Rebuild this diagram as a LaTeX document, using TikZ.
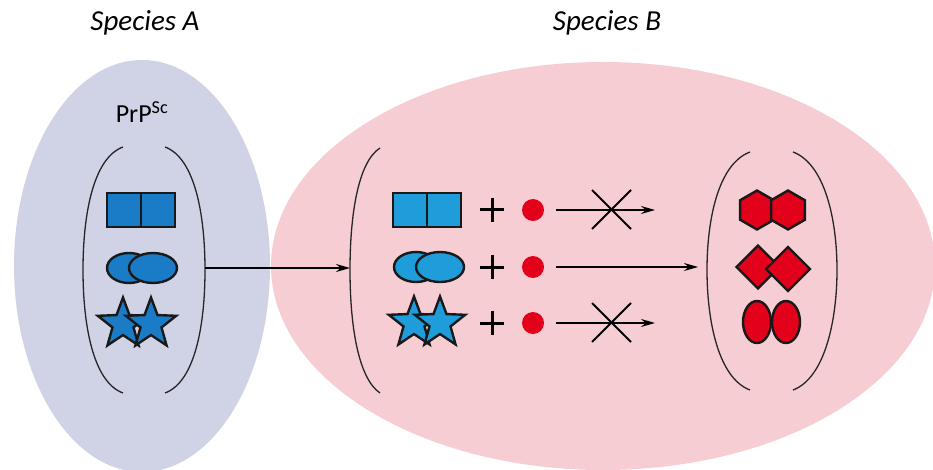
\documentclass[tikz,border=0pt]{standalone}
\usepackage{fontspec}
\setmainfont{Carlito}
\usetikzlibrary{arrows.meta,shapes.geometric}
\definecolor{bgA}{RGB}{208,211,230}
\definecolor{bgB}{RGB}{246,205,211}
\definecolor{blueA}{RGB}{26,124,198}
\definecolor{blueB}{RGB}{30,157,218}
\definecolor{redP}{RGB}{226,0,26}
\tikzset{
  shp/.style={draw=black!90, line width=2.4pt, line join=miter},
  paren/.style={draw=black!85, line width=1.3pt},
  conn/.style={draw=black, line width=1.5pt, -{Stealth[length=14pt,width=8pt]}},
  crossln/.style={draw=black, line width=1.8pt},
  plusln/.style={draw=black, line width=3pt},
  starsh/.style={star, star points=5, star point ratio=2.4, minimum size=53pt, inner sep=0pt, shp},
}
\begin{document}
\begin{tikzpicture}[x=1pt,y=-1pt]
\useasboundingbox (0,0) rectangle (933,470);
\fill[bgA] (142,266) ellipse [x radius=128, y radius=206];
\fill[bgB] (603,266) ellipse [x radius=332, y radius=204];

\node (spA) at (145,23) {\fontsize{29}{33}\selectfont\itshape Species A};
\node (spB) at (607,23) {\fontsize{29}{33}\selectfont\itshape Species B};
\node (prp) at (142,112) {\fontsize{26}{30}\selectfont PrP\textsuperscript{Sc}};

% parentheses A
\draw[paren] (123,147) .. controls (93,158) and (83,215) .. (83,270) .. controls (83,325) and (93,382) .. (123,393);
\draw[paren] (165,147) .. controls (195,158) and (205,215) .. (205,270) .. controls (205,325) and (195,382) .. (165,393);
% parentheses B left
\draw[paren] (380,148) .. controls (358,162) and (350,215) .. (350,270) .. controls (350,325) and (358,378) .. (380,393);
% parentheses B right
\draw[paren] (750,152) .. controls (718,164) and (707,220) .. (707,270) .. controls (707,320) and (718,378) .. (750,390);
\draw[paren] (793,152) .. controls (825,164) and (837,220) .. (837,270) .. controls (837,320) and (825,378) .. (793,390);

% species A shapes
\draw[shp, fill=blueA] (107,193) rectangle (175,227);
\draw[shp] (141,193) -- (141,227);
\draw[shp, fill=blueA] (129,268) ellipse [x radius=22, y radius=15];
\draw[shp, fill=blueA] (153,268) ellipse [x radius=24, y radius=15];
\node[starsh, fill=blueA] (sA1) at (123,324) {};
\node[starsh, fill=blueA] (sA2) at (151,324) {};

% species B reactants
\draw[shp, fill=blueB] (393,193) rectangle (461,227);
\draw[shp] (427,193) -- (427,227);
\draw[shp, fill=blueB] (416,267) ellipse [x radius=22, y radius=15];
\draw[shp, fill=blueB] (440,267) ellipse [x radius=24, y radius=15];
\node[starsh, fill=blueB] (sB1) at (414,323) {};
\node[starsh, fill=blueB] (sB2) at (440,323) {};

% plus signs and dots
\foreach \y/\n in {210/1,267/2,323/3}{
  \draw[plusln] (480,\y) -- (504,\y);
  \draw[plusln] (492,\y-12) -- (492,\y+12);
  \fill[redP] (533,\y) circle (11);
  \coordinate (s\n) at (556,\y);
}
\coordinate (e1) at (655,210);
\coordinate (e3) at (655,323);
\coordinate (e2) at (698,267);
\draw[conn] (s1) -- (e1);
\draw[conn] (s3) -- (e3);
\draw[conn] (s2) -- (e2);
\draw[crossln] (592,190) -- (631,229);
\draw[crossln] (592,229) -- (631,190);
\draw[crossln] (592,303) -- (631,342);
\draw[crossln] (592,342) -- (631,303);

% main arrow
\coordinate (aS) at (205,268);
\coordinate (aE) at (350,268);
\draw[conn] (aS) -- (aE);

% products
\node[regular polygon, regular polygon sides=6, shape border rotate=30, minimum size=39pt, inner sep=0pt, shp, fill=redP] (h1) at (757,210) {};
\node[regular polygon, regular polygon sides=6, shape border rotate=30, minimum size=39pt, inner sep=0pt, shp, fill=redP] (h2) at (788,210) {};
\node[diamond, minimum width=44pt, minimum height=44pt, inner sep=0pt, shp, fill=redP] (d1) at (758,267) {};
\node[diamond, minimum width=45pt, minimum height=45pt, inner sep=0pt, shp, fill=redP] (d2) at (788,269) {};
\draw[shp, fill=redP] (757,322) ellipse [x radius=14, y radius=21];
\draw[shp, fill=redP] (786,322) ellipse [x radius=14, y radius=21];
\end{tikzpicture}
\end{document}
